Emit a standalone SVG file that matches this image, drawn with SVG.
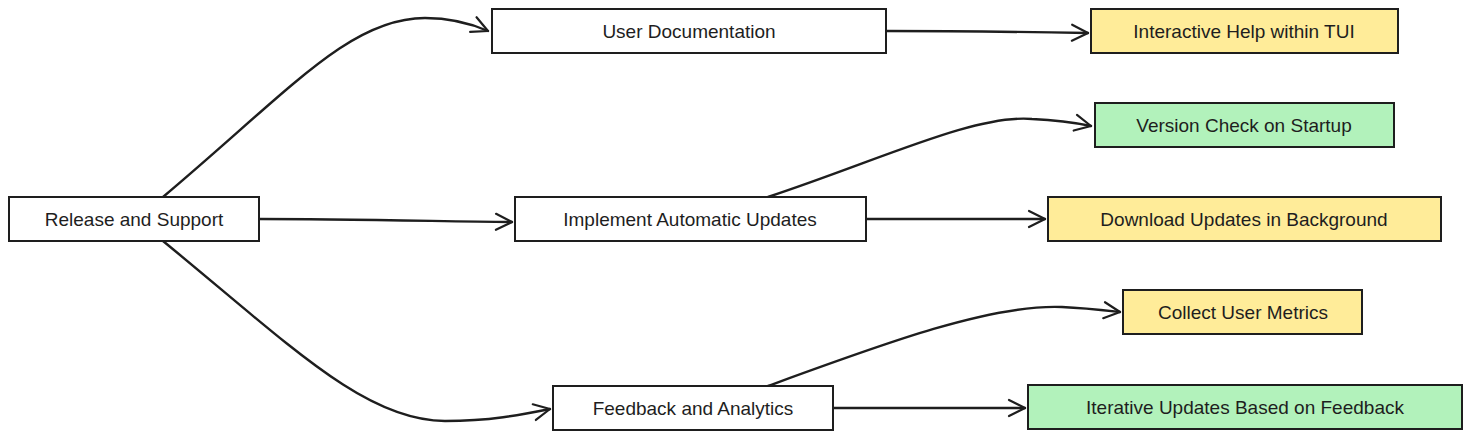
<svg xmlns="http://www.w3.org/2000/svg" width="1472" height="441" viewBox="0 0 1472 441">
<defs>
<marker id="arr" markerUnits="userSpaceOnUse" viewBox="0 0 20 20" markerWidth="20" markerHeight="20" refX="18" refY="10" orient="auto">
<path d="M2,2 L18,10 L2,18" fill="none" stroke="#1e1e1e" stroke-width="2.2" stroke-linecap="round" stroke-linejoin="round"/>
</marker>
<style>
.box{stroke:#1e1e1e;stroke-width:2;fill:#ffffff}
.yel{fill:#ffec99}
.grn{fill:#b2f2bb}
.lbl{font-family:"Liberation Sans","DejaVu Sans",sans-serif;font-size:19px;fill:#1e1e1e;text-anchor:middle;dominant-baseline:central}
.edge{fill:none;stroke:#1e1e1e;stroke-width:2.4;stroke-linecap:round;marker-end:url(#arr)}
</style>
</defs>
<rect width="1472" height="441" fill="#ffffff"/>
<g id="connectors">
<path class="edge" d="M163,197 C290,90 350,18 425,18 C452,18 472,24 488,31"/>
<path class="edge" d="M259,219 C340,219 430,221 512,222"/>
<path class="edge" d="M163,241 C290,345 365,421 445,421 C490,421 520,415 550,409"/>
<path class="edge" d="M886,31 C960,31 1030,32 1088,33"/>
<path class="edge" d="M768,197 C880,160 975,114 1032,119 C1055,120 1072,122 1091,126"/>
<path class="edge" d="M866,219 C930,219 990,219 1045,219"/>
<path class="edge" d="M768,386 C880,345 990,304 1062,307 C1085,308 1102,310 1120,312"/>
<path class="edge" d="M833,408 C900,408 960,408 1025,408"/>
</g>
<g id="release">
<rect class="box" x="9" y="197" width="250" height="44"/>
<text class="lbl" x="134" y="219">Release and Support</text>
</g>
<g id="userdoc">
<rect class="box" x="492" y="9" width="394" height="44"/>
<text class="lbl" x="689" y="31">User Documentation</text>
</g>
<g id="autoupdates">
<rect class="box" x="515" y="197" width="351" height="44"/>
<text class="lbl" x="690" y="219">Implement Automatic Updates</text>
</g>
<g id="feedback">
<rect class="box" x="553" y="386" width="280" height="44"/>
<text class="lbl" x="693" y="408">Feedback and Analytics</text>
</g>
<g id="interactivehelp">
<rect class="box yel" x="1091" y="9" width="307" height="44"/>
<text class="lbl" x="1244" y="31">Interactive Help within TUI</text>
</g>
<g id="versioncheck">
<rect class="box grn" x="1095" y="103" width="299" height="44"/>
<text class="lbl" x="1244" y="125">Version Check on Startup</text>
</g>
<g id="download">
<rect class="box yel" x="1048" y="197" width="393" height="44"/>
<text class="lbl" x="1244" y="219">Download Updates in Background</text>
</g>
<g id="metrics">
<rect class="box yel" x="1123" y="290" width="239" height="44"/>
<text class="lbl" x="1243" y="312">Collect User Metrics</text>
</g>
<g id="iterative">
<rect class="box grn" x="1028" y="385" width="434" height="44"/>
<text class="lbl" x="1245" y="407">Iterative Updates Based on Feedback</text>
</g>
</svg>
